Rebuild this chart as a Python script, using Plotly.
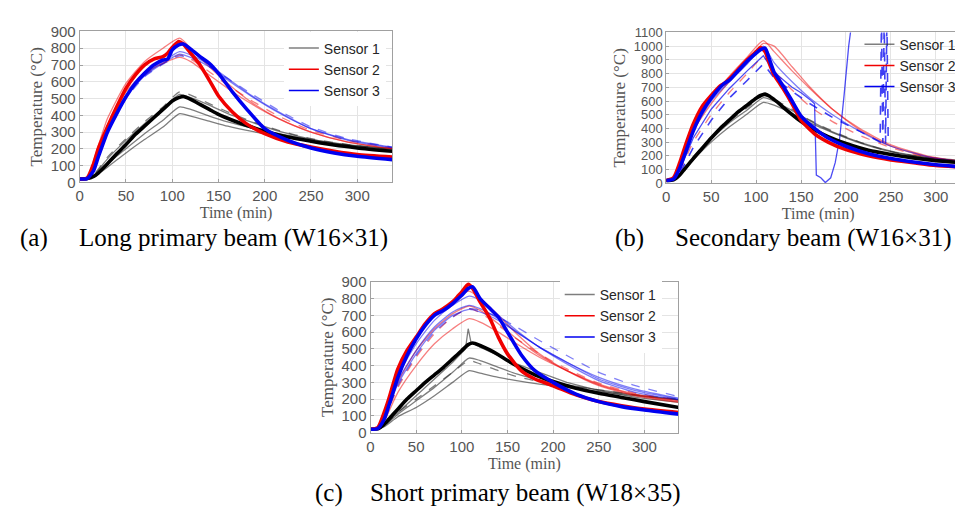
import plotly.graph_objects as go

# =========================
# DATA
# =========================
# time grids (min)
T_TEST = [0, 8, 15, 20, 30, 40, 50, 60, 70, 80, 90, 95, 100, 107, 112, 120, 130, 140, 150, 165, 180, 200, 225, 250, 275, 300, 338]
T_TEST_B = [0, 8, 15, 20, 30, 40, 50, 60, 65, 70, 80, 90, 100, 105, 110, 115, 120, 125, 130, 140, 150, 165, 180, 200, 225, 250, 275, 300, 338]
T_MODEL = [0, 8, 15, 30, 50, 70, 90, 108, 120, 140, 160, 185, 215, 250, 290, 338]

# (a) Long primary beam - measured
A_S1_TEST = [20, 22, 35, 55, 110, 170, 225, 285, 335, 385, 435, 460, 485, 505, 512, 495, 465, 435, 405, 370, 340, 305, 270, 245, 222, 205, 185]
A_S2_TEST = [20, 25, 110, 200, 330, 450, 560, 640, 700, 735, 750, 770, 805, 840, 825, 770, 700, 610, 515, 420, 350, 290, 240, 210, 185, 165, 150]
A_S3_TEST = [20, 22, 70, 150, 300, 410, 510, 590, 650, 700, 730, 735, 790, 820, 825, 795, 750, 710, 650, 540, 440, 320, 250, 205, 175, 155, 135]
# (a) predictions
A_S1_M1 = [20, 22, 45, 150, 260, 360, 450, 540, 520, 470, 420, 365, 310, 260, 225, 195]
A_S1_M2 = [20, 22, 40, 140, 250, 350, 440, 525, 505, 460, 410, 360, 305, 258, 222, 192]
A_S1_M3 = [20, 22, 35, 110, 200, 290, 370, 450, 435, 395, 360, 325, 290, 255, 225, 200]
A_S1_M4 = [20, 22, 30, 90, 175, 255, 330, 410, 395, 365, 335, 305, 275, 245, 220, 200]
A_S2_M1 = [20, 25, 130, 380, 590, 720, 800, 860, 800, 690, 590, 480, 380, 300, 240, 200]
A_S2_M2 = [20, 25, 110, 340, 540, 650, 710, 745, 720, 640, 560, 470, 380, 300, 240, 200]
A_S2_M3 = [20, 25, 100, 320, 520, 640, 710, 760, 735, 660, 580, 490, 395, 310, 250, 205]
A_S3_M1 = [20, 22, 90, 320, 520, 640, 720, 780, 760, 700, 620, 520, 420, 320, 250, 205]
A_S3_M2 = [20, 22, 80, 300, 500, 630, 705, 755, 740, 690, 620, 530, 430, 330, 260, 210]
A_S3_M3 = [20, 22, 85, 310, 510, 635, 710, 765, 745, 690, 610, 515, 415, 320, 255, 210]

# (b) Secondary beam - measured
B_S1_TEST = [20, 25, 60, 100, 180, 255, 330, 400, 430, 460, 520, 570, 620, 640, 650, 635, 610, 585, 555, 500, 450, 390, 340, 290, 240, 210, 185, 165, 145]
B_S2_TEST = [20, 40, 150, 250, 430, 560, 640, 710, 730, 760, 830, 900, 960, 990, 960, 870, 790, 740, 690, 580, 460, 360, 300, 245, 200, 170, 150, 130, 115]
B_S3_TEST = [20, 30, 110, 200, 380, 520, 620, 700, 730, 750, 820, 890, 950, 975, 985, 900, 810, 760, 710, 600, 490, 400, 330, 270, 215, 180, 155, 135, 115]
# (b) predictions
B_S1_M1 = [20, 25, 70, 190, 330, 450, 550, 640, 610, 540, 460, 380, 300, 230, 185, 155]
B_S1_M2 = [20, 25, 60, 170, 300, 410, 505, 590, 570, 510, 440, 370, 295, 230, 185, 155]
B_S1_M3 = [20, 25, 65, 180, 320, 440, 535, 625, 600, 530, 455, 375, 300, 235, 190, 160]
B_S2_M1 = [20, 30, 140, 420, 620, 780, 920, 1040, 960, 820, 690, 540, 400, 280, 200, 150]
B_S2_M2 = [20, 30, 120, 380, 580, 740, 880, 1020, 1000, 850, 700, 540, 390, 270, 195, 150]
B_S2_M3 = [20, 30, 90, 300, 500, 660, 800, 920, 820, 680, 560, 450, 350, 260, 190, 150]
B_S3_M1 = [20, 25, 110, 380, 600, 740, 870, 1000, 880, 740, 620, 500, 380, 270, 195, 150]
# faulty sensor-3 traces in (b)
B_S3_GLITCH_T = [0, 8, 15, 30, 50, 70, 90, 108, 120, 140, 150, 160, 165, 167, 172, 177, 183, 188, 193, 198, 203, 207]
B_S3_GLITCH = [20, 25, 100, 330, 540, 690, 820, 930, 810, 700, 660, 610, 580, 60, 40, 5, 40, 150, 330, 650, 1000, 1200]
B_S3_DASH_T = [0, 8, 15, 30, 50, 70, 90, 108, 120, 140, 160, 185, 215, 238, 239.5, 241, 242.5, 244, 245.5, 247]
B_S3_DASH = [20, 25, 70, 260, 460, 620, 750, 870, 770, 670, 580, 480, 380, 300, 1200, 295, 1200, 290, 1200, 290]

# (c) Short primary beam - measured
C_S1_TEST = [20, 22, 50, 80, 140, 200, 250, 300, 345, 390, 440, 465, 490, 525, 535, 520, 495, 465, 430, 385, 345, 305, 265, 235, 210, 185, 150]
C_S2_TEST = [20, 30, 120, 200, 380, 490, 570, 650, 710, 740, 780, 810, 840, 885, 860, 780, 690, 570, 470, 370, 320, 280, 225, 185, 160, 140, 120]
C_S3_TEST = [20, 25, 80, 160, 330, 460, 560, 640, 700, 730, 770, 795, 820, 860, 870, 800, 745, 690, 600, 465, 370, 300, 230, 185, 155, 135, 110]
# (c) predictions
C_S1_SPIKE_T = [0, 8, 15, 30, 50, 70, 90, 104, 107, 110, 120, 140, 160, 185, 215, 250, 290, 338]
C_S1_SPIKE = [20, 22, 50, 120, 220, 320, 420, 500, 620, 540, 510, 460, 410, 360, 300, 250, 210, 180]
C_S1_M1 = [20, 22, 40, 110, 190, 270, 360, 445, 430, 390, 350, 315, 285, 255, 225, 195]
C_S1_M2 = [20, 22, 40, 120, 200, 280, 360, 430, 410, 370, 335, 305, 280, 255, 225, 200]
C_S1_M3 = [20, 22, 35, 95, 150, 220, 300, 370, 355, 330, 310, 290, 270, 245, 220, 195]
C_S2_M1 = [20, 28, 110, 370, 560, 700, 790, 845, 800, 700, 590, 470, 370, 280, 220, 180]
C_S2_M2 = [20, 25, 90, 300, 490, 620, 710, 755, 730, 650, 560, 460, 370, 285, 225, 185]
C_S2_M3 = [20, 25, 70, 240, 400, 530, 620, 680, 660, 600, 530, 450, 370, 290, 230, 190]
C_S2_M4 = [20, 25, 80, 270, 450, 590, 690, 740, 715, 640, 560, 470, 380, 295, 235, 195]
C_S3_M1 = [20, 25, 100, 340, 530, 670, 760, 815, 790, 700, 610, 510, 410, 310, 240, 195]
C_S3_M2 = [20, 25, 90, 310, 490, 630, 720, 760, 740, 680, 600, 510, 420, 330, 260, 205]
C_S3_M3 = [20, 25, 80, 280, 460, 600, 690, 740, 730, 690, 630, 550, 460, 360, 280, 215]
C_S3_M4 = [20, 25, 85, 290, 470, 610, 700, 735, 720, 670, 600, 510, 420, 320, 250, 200]

SENSORS = ["Sensor 1", "Sensor 2", "Sensor 3"]
CAPTIONS = [("(a)", "Long primary beam (W16×31)"),
            ("(b)", "Secondary beam (W16×31)"),
            ("(c)", "Short primary beam (W18×35)")]

# =========================
# STYLE
# =========================
BLACK, RED, BLUE = "#000000", "#f00000", "#0000f0"
BLACK_T, RED_T, BLUE_T = "rgba(40,40,40,0.6)", "rgba(240,0,0,0.5)", "rgba(0,0,240,0.5)"
THICK, THIN = 3.6, 1.3
W, H = 963, 508
SERIF = "Liberation Serif, Times New Roman"
SANS = "Liberation Sans, Arial"


def px_x(v):
    return v / W


def px_y(v):
    return 1 - v / H


def add_curve(fig, n, t, y, color, width, dash="solid", shape="spline"):
    fig.add_trace(go.Scatter(
        x=t, y=y, mode="lines",
        line=dict(color=color, width=width, dash=dash, shape=shape, smoothing=0.6, simplify=False),
        xaxis="x" if n == 1 else f"x{n}", yaxis="y" if n == 1 else f"y{n}",
        showlegend=False, hoverinfo="skip"))


def add_legend(fig, n):
    for name, color in zip(SENSORS, [BLACK_T, RED, BLUE]):
        fig.add_trace(go.Scatter(
            x=[None], y=[None], mode="lines", name=name,
            line=dict(color=color, width=1.5),
            xaxis="x" if n == 1 else f"x{n}", yaxis="y" if n == 1 else f"y{n}",
            legend="legend" if n == 1 else f"legend{n}"))


def x_axis(domain, rng, anchor):
    return dict(domain=domain, range=rng, anchor=anchor, tickvals=[0, 50, 100, 150, 200, 250, 300],
                showgrid=True, gridcolor="#e4e4e4", showline=True, linecolor="#a0a0a0",
                mirror=True, ticks="inside", ticklen=3, tickcolor="#a0a0a0", zeroline=False,
                tickfont=dict(family=SANS, size=15, color="#555555"),
                title=dict(text="Time (min)", standoff=1,
                           font=dict(family=SERIF, size=16, color="#555555")))


def y_axis(domain, rng, anchor, tsize=15):
    return dict(domain=domain, range=rng, dtick=100, anchor=anchor,
                showgrid=True, gridcolor="#e4e4e4", showline=True, linecolor="#a0a0a0",
                mirror=True, ticks="inside", ticklen=3, tickcolor="#a0a0a0", zeroline=False,
                tickfont=dict(family=SANS, size=tsize, color="#555555"),
                title=dict(text="Temperature (°C)", standoff=3,
                           font=dict(family=SERIF, size=17, color="#555555")))


def legend_box(x, y, bg="white"):
    return dict(x=px_x(x), y=px_y(y), xanchor="left", yanchor="top", bgcolor=bg,
                borderwidth=0, tracegroupgap=0, itemwidth=30,
                font=dict(family=SANS, size=14, color="#262626"))


def main():
    fig = go.Figure()

    # ---- (a)
    for y, c, d in [(A_S1_M1, BLACK_T, "dash"), (A_S1_M2, BLACK_T, "solid"), (A_S1_M3, BLACK_T, "solid"),
                    (A_S1_M4, BLACK_T, "solid"), (A_S2_M1, RED_T, "solid"), (A_S2_M2, RED_T, "solid"),
                    (A_S2_M3, RED_T, "dash"), (A_S3_M1, BLUE_T, "solid"), (A_S3_M2, BLUE_T, "dash"),
                    (A_S3_M3, BLUE_T, "solid")]:
        add_curve(fig, 1, T_MODEL, y, c, THIN, d)
    for y, c in [(A_S1_TEST, BLACK), (A_S2_TEST, RED), (A_S3_TEST, BLUE)]:
        add_curve(fig, 1, T_TEST, y, c, THICK)

    # ---- (b)
    for y, c, d in [(B_S1_M1, BLACK_T, "dash"), (B_S1_M2, BLACK_T, "solid"), (B_S1_M3, BLACK_T, "solid"),
                    (B_S2_M1, RED_T, "solid"), (B_S2_M2, RED_T, "solid"), (B_S2_M3, RED_T, "dash"),
                    (B_S3_M1, BLUE_T, "solid")]:
        add_curve(fig, 2, T_MODEL, y, c, THIN, d)
    add_curve(fig, 2, B_S3_GLITCH_T, B_S3_GLITCH, "rgba(0,0,240,0.7)", THIN, "solid", "linear")
    add_curve(fig, 2, B_S3_DASH_T, B_S3_DASH, "rgba(0,0,240,0.75)", 1.6, "dash", "linear")
    for y, c in [(B_S1_TEST, BLACK), (B_S2_TEST, RED), (B_S3_TEST, BLUE)]:
        add_curve(fig, 2, T_TEST_B, y, c, THICK)

    # ---- (c)
    add_curve(fig, 3, C_S1_SPIKE_T, C_S1_SPIKE, BLACK_T, THIN, "solid", "linear")
    for y, c, d in [(C_S1_M1, BLACK_T, "solid"), (C_S1_M2, BLACK_T, "dash"), (C_S1_M3, BLACK_T, "solid"),
                    (C_S2_M1, RED_T, "solid"), (C_S2_M2, RED_T, "solid"), (C_S2_M3, RED_T, "solid"),
                    (C_S2_M4, RED_T, "dash"), (C_S3_M1, BLUE_T, "solid"), (C_S3_M2, BLUE_T, "solid"),
                    (C_S3_M3, BLUE_T, "dash"), (C_S3_M4, BLUE_T, "solid")]:
        add_curve(fig, 3, T_MODEL, y, c, THIN, d)
    for y, c in [(C_S1_TEST, BLACK), (C_S2_TEST, RED), (C_S3_TEST, BLUE)]:
        add_curve(fig, 3, T_TEST, y, c, THICK)

    for n in (1, 2, 3):
        add_legend(fig, n)

    fig.update_layout(
        width=W, height=H, margin=dict(l=0, r=0, t=0, b=0),
        paper_bgcolor="white", plot_bgcolor="white",
        xaxis=x_axis([px_x(68), px_x(382)], [0, 338], "y"),
        yaxis=y_axis([px_y(171), px_y(15)], [0, 900], "x"),
        xaxis2=x_axis([px_x(657), px_x(962)], [0, 338], "y2"),
        yaxis2=y_axis([px_y(172), px_y(16)], [0, 1100], "x2", tsize=13),
        xaxis3=x_axis([px_x(360), px_x(669)], [0, 337], "y3"),
        yaxis3=y_axis([px_y(430), px_y(274)], [0, 900], "x3"),
        legend=legend_box(273, 16),
        legend2=legend_box(851, 12, "rgba(255,255,255,0)"),
        legend3=legend_box(550, 271),
    )

    # captions under each panel
    cap = dict(family=SERIF, size=25, color="black")
    spots = [(6, 65, 229), (604, 664, 229), (302, 357, 492)]
    for (tag, text), (x_tag, x_text, y) in zip(CAPTIONS, spots):
        for txt, x in [(tag, x_tag), (text, x_text)]:
            fig.add_annotation(text=txt, x=px_x(x), y=px_y(y), xref="paper", yref="paper",
                               xanchor="left", yanchor="middle", showarrow=False, font=cap)

    fig.write_html("out.html")


if __name__ == "__main__":
    main()
